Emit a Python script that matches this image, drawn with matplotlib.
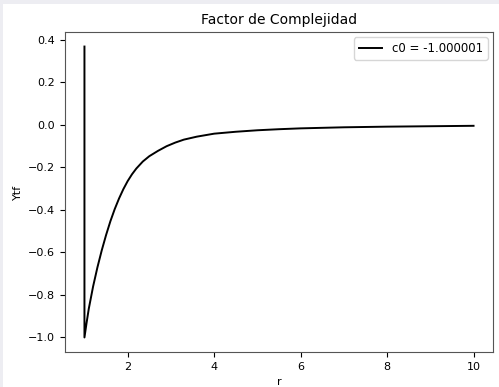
import matplotlib
matplotlib.use("Agg")
import matplotlib.pyplot as plt
from matplotlib.patches import Rectangle

# values
r = [1.0, 1.0, 1.05, 1.1, 1.2, 1.3, 1.4, 1.5, 1.6, 1.7, 1.8, 1.9, 2.0, 2.1, 2.2,
     2.35, 2.5, 2.7, 2.9, 3.1, 3.3, 3.6, 4.0, 4.5, 5.0, 5.5, 6.0, 7.0, 8.0, 9.0, 10.0]
ytf = [0.369, -1.0, -0.93, -0.865, -0.76, -0.67, -0.59, -0.518, -0.453, -0.396, -0.346,
       -0.302, -0.264, -0.232, -0.205, -0.172, -0.147, -0.122, -0.100, -0.083, -0.069,
       -0.055, -0.041, -0.032, -0.025, -0.020, -0.016, -0.011, -0.008, -0.006, -0.004]
c0 = -1.000001

plt.rcParams["font.size"] = 8

fig = plt.figure(figsize=(4.99, 3.87), dpi=100)
# light grey frame around the picture
fig.patches.append(Rectangle((0, 0), 1, 1, transform=fig.transFigure,
                             facecolor="#ededf2", edgecolor="none", zorder=-10))
fig.patches.append(Rectangle((3 / 499, 0), 1, 1 - 4 / 387, transform=fig.transFigure,
                             facecolor="white", edgecolor="none", zorder=-9))
fig.patch.set_alpha(0)

ax = fig.add_axes([65 / 499, 1 - 352 / 387, 428 / 499, 320 / 387])
ax.plot(r, ytf, color="black", lw=1.4, label=f"c0 = {c0}")
ax.set_title("Factor de Complejidad", fontsize=10)
ax.set_xlabel("r")
ax.set_ylabel("Ytf")
ax.legend(loc="upper right", fontsize=8.5, borderaxespad=0.45)
for s in ax.spines.values():
    s.set_color("#555555")

fig.savefig("out.png", dpi=100)
